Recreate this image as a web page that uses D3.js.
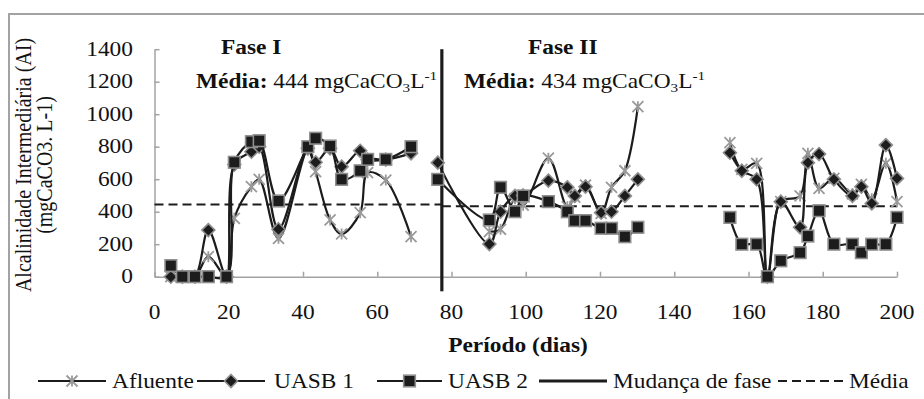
<!DOCTYPE html>
<html><head><meta charset="utf-8">
<script src="https://cdn.jsdelivr.net/npm/d3@7"></script>
<style>
html,body{margin:0;padding:0;background:#fff;}
svg{display:block;font-family:"Liberation Serif","Times New Roman",serif;}
</style></head>
<body><svg id="chart" width="924" height="399"></svg>
<script>
// ---- data ----
const days     = [4.4,7.5,10.9,14.5,19.4,21.5,26.1,28.2,33.4,41.3,43.4,47.3,50.4,55.4,57.4,62.3,69.1,72,
                  76.3,90.2,93.2,97.1,99.3,106.1,111.2,113.2,116.1,120.3,123.1,126.7,130.2,140,
                  155,158.2,162.2,165.1,168.7,173.9,176.0,179,183,188,190.4,193.2,197,200];
const afluente = [0,0,0,123,0,359,554,599,236,780,646,349,263,394,640,595,246,null,
                  null,277,292,480,440,729,430,490,564,390,550,652,1046,null,
                  825,660,698,0,462,497,759,544,605,510,568,480,698,462];
const uasb1    = [0,0,0,287,0,690,769,800,292,790,704,790,677,775,720,720,759,null,
                  702,201,400,497,500,591,550,497,554,394,400,497,599,null,
                  763,652,599,0,462,304,702,755,599,497,554,451,810,605];
const uasb2    = [68,0,0,0,0,704,831,837,466,800,852,804,599,652,722,722,800,null,
                  599,349,550,400,497,462,400,345,345,298,298,246,304,null,
                  365,200,200,0,98,148,250,406,200,200,148,200,200,365];
const seriesNames = ["Afluente","UASB 1","UASB 2"];
const phaseChangeDay = 77.4;
const phaseStart = [0, 77.4];
const phaseEnd = [77.4, 200];
const phaseMean = [444, 434];
const phaseTitles = ["Fase I","Fase II"];
const xTickValues = [0,20,40,60,80,100,120,140,160,180,200];
const yTickValues = [0,200,400,600,800,1000,1200,1400];
const xTitle = "Período (dias)";
const yTitle1 = "Alcalinidade Intermediária (AI)";
const yTitle2 = "(mgCaCO3. L-1)";

// ---- drawing ----
const svg = d3.select("#chart");
const SX = 1.17;           // horizontal stretch of the reference text
const FS = 20;
const gray = "#a3a3a3", ink = "#1c1c1c";

const x = d3.scaleLinear().domain([0,200]).range([154.5,897]);
const y = d3.scaleLinear().domain([0,1400]).range([276.7,49.2]);

function txt(px, py, str, anchor, bold, size){
  return svg.append("text")
    .attr("transform", `translate(${px},${py}) scale(${SX},1)`)
    .attr("text-anchor", anchor || "start")
    .attr("font-size", size || FS)
    .attr("font-weight", bold ? "bold" : "normal")
    .attr("fill", "#111")
    .text(str);
}

// outer frame
svg.append("rect").attr("x",9).attr("y",14).attr("width",960).attr("height",420)
  .attr("fill","none").attr("stroke",gray).attr("stroke-width",2);

// axes
const xAxis = d3.axisBottom(x).tickValues(xTickValues).tickSizeInner(-5).tickSizeOuter(0).tickFormat("");
const yAxis = d3.axisLeft(y).tickValues(yTickValues).tickSizeInner(-5).tickSizeOuter(0).tickFormat("");
const gx = svg.append("g").attr("transform",`translate(0,${y(0)})`).call(xAxis);
const gy = svg.append("g").attr("transform",`translate(${x(0)},0)`).call(yAxis);
[gx,gy].forEach(g=>{
  g.selectAll("path,line").attr("stroke",gray).attr("stroke-width",1.5);
});

// tick labels
yTickValues.forEach(v => txt(133, y(v)+6.5, String(v), "end"));
xTickValues.forEach(v => txt(x(v), 319, String(v), "middle"));

// axis titles
txt(518, 352, xTitle, "middle", true);
function vtxt(px, py, str){
  return svg.append("text")
    .attr("transform", `translate(${px},${py}) rotate(-90) scale(1,${SX})`)
    .attr("text-anchor","middle").attr("font-size",FS).attr("fill","#111").text(str);
}
vtxt(31, 165, yTitle1);
vtxt(52, 165, yTitle2);

// mean lines
phaseMean.forEach((m,i)=>{
  svg.append("line").attr("x1",x(phaseStart[i])).attr("x2",x(phaseEnd[i]))
    .attr("y1",y(m)).attr("y2",y(m))
    .attr("stroke",ink).attr("stroke-width",2).attr("stroke-dasharray","9,5");
});

// phase change line
svg.append("line").attr("x1",x(phaseChangeDay)).attr("x2",x(phaseChangeDay))
  .attr("y1",y(1400)).attr("y2",y(-90)).attr("stroke",ink).attr("stroke-width",3.2);

// phase annotations
const titleX = [221, 528];
phaseTitles.forEach((t,i)=> txt(titleX[i], 54, t, "start", true));
const meanX = [196, 464];
phaseMean.forEach((m,i)=>{
  const t = svg.append("text")
    .attr("transform", `translate(${meanX[i]},88) scale(${SX},1)`)
    .attr("font-size",FS).attr("fill","#111");
  t.append("tspan").attr("font-weight","bold").text("Média:");
  t.append("tspan").text(` ${m} mgCaCO`);
  t.append("tspan").attr("font-size",13).attr("dy",4).text("3");
  t.append("tspan").attr("dy",-4).text("L");
  t.append("tspan").attr("font-size",13).attr("dy",-8).text("-1");
});

// markers
function asterisk(g, cx, cy, r){
  const p = `M${cx-r},${cy-r}L${cx+r},${cy+r}M${cx-r},${cy+r}L${cx+r},${cy-r}M${cx},${cy-r}L${cx},${cy+r}`;
  g.append("path").attr("d",p).attr("stroke","#9a9a9a").attr("stroke-width",1.8).attr("fill","none");
}
function diamond(g, cx, cy, r){
  g.append("path").attr("d",`M${cx},${cy-r}L${cx+r},${cy}L${cx},${cy+r}L${cx-r},${cy}Z`)
    .attr("fill",ink).attr("stroke","#8e8e8e").attr("stroke-width",1.6);
}
function square(g, cx, cy, r){
  g.append("rect").attr("x",cx-r).attr("y",cy-r).attr("width",2*r).attr("height",2*r)
    .attr("fill",ink).attr("stroke","#8e8e8e").attr("stroke-width",1.6);
}
const markerFns = [(g,a,b)=>asterisk(g,a,b,5.5),(g,a,b)=>diamond(g,a,b,6.5),(g,a,b)=>square(g,a,b,5.8)];

const line = d3.line()
  .defined(d => d[1] !== null)
  .x(d => x(d[0])).y(d => y(d[1]))
  .curve(d3.curveCatmullRom.alpha(0.5));

[afluente, uasb1, uasb2].forEach((vals, si)=>{
  const pts = days.map((d,i)=>[d, vals[i]]);
  const g = svg.append("g");
  g.append("path").attr("d", line(pts)).attr("fill","none")
    .attr("stroke",ink).attr("stroke-width",2.2);
  pts.filter(p=>p[1]!==null).forEach(p=> markerFns[si](g, x(p[0]), y(p[1])));
});

// legend
const ly = 381;
const legendItems = [
  {x1:38,x2:106,tx:112,label:seriesNames[0],m:0},
  {x1:197,x2:265,tx:274,label:seriesNames[1],m:1},
  {x1:377,x2:442,tx:448,label:seriesNames[2],m:2},
  {x1:539,x2:607,tx:613,label:"Mudança de fase",w:3.2},
  {x1:778,x2:843,tx:849,label:"Média",dash:true}
];
legendItems.forEach(it=>{
  const g = svg.append("g");
  g.append("line").attr("x1",it.x1).attr("x2",it.x2).attr("y1",ly).attr("y2",ly)
    .attr("stroke",ink).attr("stroke-width",it.w||2.2)
    .attr("stroke-dasharray", it.dash ? "9,5" : null);
  if(it.m !== undefined) markerFns[it.m](g,(it.x1+it.x2)/2,ly);
  txt(it.tx, ly+6.5, it.label, "start");
});
</script>
</body></html>
